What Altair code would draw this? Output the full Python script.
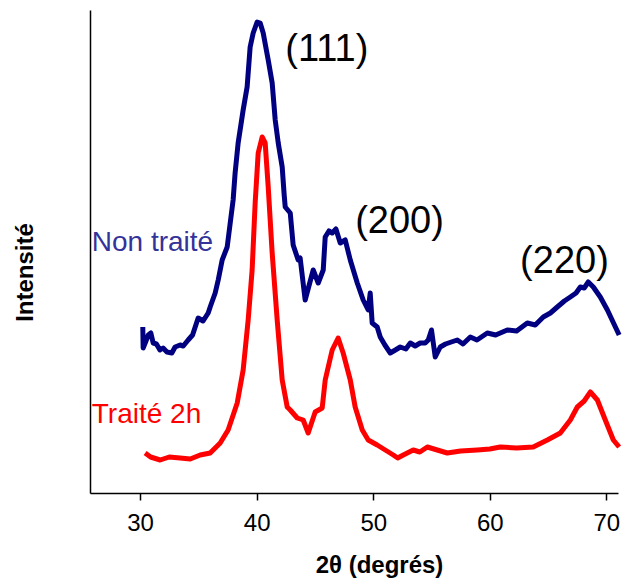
import altair as alt
import pandas as pd

# Non traité (untreated) pattern: 2theta (deg) and intensity (a.u.)
blue_x = [30.23, 30.26, 30.50, 30.70, 30.92, 31.12, 31.40, 31.70, 31.97, 32.30, 32.72, 33.00, 33.43,
          33.70, 34.12, 34.50, 34.98, 35.40, 35.84, 36.01, 36.44, 36.70,
          37.04, 37.47, 37.73, 37.98, 38.15, 38.41, 38.84, 39.18, 39.44, 39.70, 40.04, 40.30, 40.56,
          40.99, 41.33, 41.59, 41.85, 42.19, 42.36, 42.45, 42.88, 43.13, 43.56, 43.73, 44.16, 44.85,
          45.28, 45.71, 45.88, 46.20, 46.48, 46.80, 47.17, 47.60, 48.03, 48.63, 49.14, 49.57, 49.74,
          49.91, 50.34, 50.60, 51.00, 51.46, 51.90, 52.32, 52.80, 53.18, 53.60, 54.03, 54.46, 54.72,
          55.00, 55.32, 55.75, 56.20, 56.70, 57.21, 57.70, 58.33, 58.90, 59.79, 60.50, 61.50, 62.30,
          63.22, 63.90, 64.59, 65.20, 65.79, 66.40, 66.91, 67.40, 67.77, 68.10, 68.45, 68.88, 69.48,
          70.09, 71.10]
blue_y = [166, 145, 152, 158, 160, 150, 149, 143, 145, 141, 140, 146, 148,
          147, 153, 158, 175, 172, 180, 186, 200, 213,
          233, 246, 270, 293, 320, 350, 383, 406, 446, 460, 471, 470, 460,
          433, 410, 373, 350, 326, 298, 286, 280, 248, 233, 235, 193, 223,
          210, 223, 256, 262, 260, 264, 250, 253, 233, 210, 193, 183, 200,
          170, 166, 156, 148, 140, 143, 146, 144, 150, 147, 150, 150, 153,
          163, 136, 146, 149, 151, 153, 149, 156, 153, 160, 158, 163, 162,
          170, 168, 176, 180, 186, 192, 196, 200, 206, 205, 211, 206, 196,
          183, 158]

# Traité 2h (treated 2h) pattern
red_x = [30.43, 30.90, 31.72, 32.50, 33.43, 34.30, 35.15, 36.01, 36.87, 37.55, 38.33, 38.84, 39.27, 39.61,
         39.87, 40.13, 40.47, 40.73, 40.99, 41.33, 41.76, 42.19, 42.62, 42.88, 43.48, 43.99, 44.42, 45.02,
         45.62, 45.88, 46.48, 46.99, 47.42, 48.03, 48.45, 49.06, 49.57, 50.34, 51.03, 51.72, 52.10, 52.58,
         53.43, 54.00, 54.64, 55.49, 56.35, 57.50, 58.93, 60.00, 60.90, 62.30, 63.73, 64.94, 66.05, 66.91,
         67.51, 68.10, 68.63, 69.23, 69.91, 70.60, 71.10]
red_y = [40, 36, 33, 36, 35, 34, 38, 40, 50, 63, 90, 123, 173, 223,
         290, 340, 356, 350, 306, 240, 173, 113, 86, 83, 75, 73, 60, 81,
         85, 113, 143, 155, 140, 113, 86, 63, 53, 48, 43, 38, 35, 38,
         43, 41, 46, 43, 40, 42, 43, 44, 46, 45, 46, 53, 60, 73,
         86, 92, 101, 93, 73, 53, 46]

series_names = ["Non traité", "Traité 2h"]
series_colors = ["#000080", "#FF0000"]

# annotations
ann_text = ["(111)", "(200)", "(220)"]
ann_x = [42.45, 48.45, 62.6]
ann_y = [443, 271, 231]

leg_text = ["Non traité", "Traité 2h"]
leg_x = [25.85, 25.85]
leg_y = [250, 78]
leg_colors = ["#333399", "#FF0000"]

df = pd.concat([
    pd.DataFrame({"theta": blue_x, "I": blue_y, "serie": series_names[0], "order": range(len(blue_x))}),
    pd.DataFrame({"theta": red_x, "I": red_y, "serie": series_names[1], "order": range(len(red_x))}),
])
ann = pd.DataFrame({"t": ann_text, "x": ann_x, "y": ann_y})
leg = pd.DataFrame({"t": leg_text, "x": leg_x, "y": leg_y, "c": leg_colors})

xs = alt.Scale(domain=[25.7, 71.0], nice=False, zero=False)
ys = alt.Scale(domain=[0, 483], nice=False, zero=False)

lines = alt.Chart(df).mark_line(strokeWidth=5, clip=False, strokeJoin="round").encode(
    x=alt.X("theta:Q", scale=xs,
            axis=alt.Axis(title="2θ (degrés)", values=[30, 40, 50, 60, 70], grid=False,
                          domainColor="black", domainWidth=1.5, tickColor="black", tickWidth=1.5,
                          tickSize=7, labelFontSize=24, labelColor="black", labelPadding=11,
                          labelFont="Liberation Sans", titleFont="Liberation Sans",
                          titleFontSize=24, titleFontWeight="bold", titleColor="black",
                          titleX=289, titleY=72, titleBaseline="middle", titleAlign="center")),
    y=alt.Y("I:Q", scale=ys,
            axis=alt.Axis(title="Intensité", labels=False, ticks=False, grid=False,
                          domainColor="black", domainWidth=1.5,
                          titleFont="Liberation Sans", titleFontSize=24, titleFontWeight="bold",
                          titleColor="black", titleAngle=270, titleX=-65, titleY=262,
                          titleAlign="center", titleBaseline="middle")),
    color=alt.Color("serie:N", scale=alt.Scale(domain=series_names, range=series_colors), legend=None),
    order="order:Q",
)

ann_marks = alt.Chart(ann).mark_text(font="Liberation Sans", fontSize=38, align="left",
                                     baseline="middle", color="black").encode(
    x=alt.X("x:Q", scale=xs), y=alt.Y("y:Q", scale=ys), text="t:N")

leg_marks = alt.Chart(leg).mark_text(font="Liberation Sans", fontSize=28, align="left",
                                     baseline="middle").encode(
    x=alt.X("x:Q", scale=xs), y=alt.Y("y:Q", scale=ys), text="t:N",
    color=alt.Color("c:N", scale=None))

chart = alt.layer(lines, ann_marks, leg_marks).properties(
    width=528, height=483,
    autosize=alt.AutoSizeParams(type="none"),
    padding={"left": 82, "top": 2, "right": 6, "bottom": 85},
).configure_view(stroke=None)

chart.save("out.html", embed_options={"renderer": "svg", "actions": False})
